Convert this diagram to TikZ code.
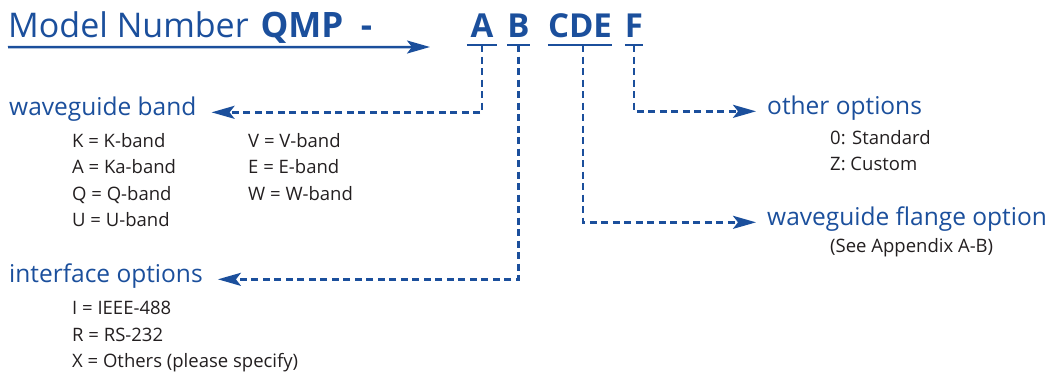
\documentclass[tikz,border=0pt]{standalone}
\usepackage{fontspec}
\setmainfont{Open Sans}
\usepackage{xcolor}
\usetikzlibrary{arrows.meta}
\definecolor{QmpBlue}{HTML}{1B4F9C}
\definecolor{QmpText}{HTML}{231F20}
\tikzset{
  >=Stealth,
  titletext/.style={text=QmpBlue,font=\fontsize{34}{40}\selectfont,inner sep=0pt,
    anchor=base west,text depth=10pt},
  codebox/.style={text=QmpBlue,font=\fontsize{33}{40}\selectfont\bfseries,inner sep=0pt,
    anchor=base,text depth=8pt},
  headtext/.style={text=QmpBlue,font=\fontsize{24.5}{28}\selectfont,inner sep=0pt,anchor=base west},
  itemtext/.style={text=QmpText,font=\fontsize{18.5}{26.5}\selectfont,inner sep=0pt,
    anchor=north west,align=left},
  underline/.style={draw=QmpBlue,line width=2.4pt},
  mainflow/.style={-{Stealth[length=23pt,width=13pt,inset=5pt]},draw=QmpBlue,line width=2.5pt},
  link/.style={mainflow,dash pattern=on 7pt off 4.5pt}
}

\begin{document}
\begin{tikzpicture}[x=1pt,y=-1pt]
  \useasboundingbox (0,0) rectangle (1054,373);

  % model number line
  \node[titletext] (title) at (8,37)
    {Model Number\hspace{0.35em}{\fontsize{35}{40}\selectfont\bfseries QMP\hspace{0.5em}-}};
  \coordinate (tip) at (430,47);
  \draw[mainflow] (title.south west) -- (tip);

  \node[codebox,minimum width=30pt] (codeA) at (482,37) {A};
  \node[codebox,minimum width=21pt] (codeB) at (518.5,37) {B};
  \node[codebox,minimum width=61pt] (codeC) at (580,37) {CDE};
  \node[codebox,minimum width=16pt] (codeF) at (634,37) {F};
  \foreach \c in {codeA,codeB,codeC,codeF}
    \draw[underline] (\c.south west) -- (\c.south east);

  % option groups
  \node[headtext] (band) at (9,115) {waveguide band};
  \node[itemtext] (bandL) at (72,133) {K = K-band\\A = Ka-band\\Q = Q-band\\U = U-band};
  \node[itemtext] (bandR) at (248,133) {V = V-band\\E = E-band\\W = W-band};

  \node[headtext] (iface) at (9,282) {interface options};
  \node[itemtext] (ifaceL) at (72,301) {I = IEEE-488\\R = RS-232\\X = Others (please specify)};

  \node[headtext] (other) at (767,114) {other options};
  \node[itemtext] (otherL) at (830,130) {0: Standard\\Z: Custom};

  \node[headtext] (flange) at (767,225) {waveguide flange option};
  \node[itemtext] (flangeL) at (830,238) {(See Appendix A-B)};

  % connectors
  \draw[link,shorten >=15pt] (codeA.south) |- (band.mid east);
  \draw[link,shorten >=15pt] (codeB.south) |- (iface.mid east);
  \draw[link,shorten >=11pt] (codeF.south) |- (other.mid west);
  \draw[link,shorten >=11pt] ([xshift=3pt]codeC.south) |- (flange.mid west);
\end{tikzpicture}
\end{document}
